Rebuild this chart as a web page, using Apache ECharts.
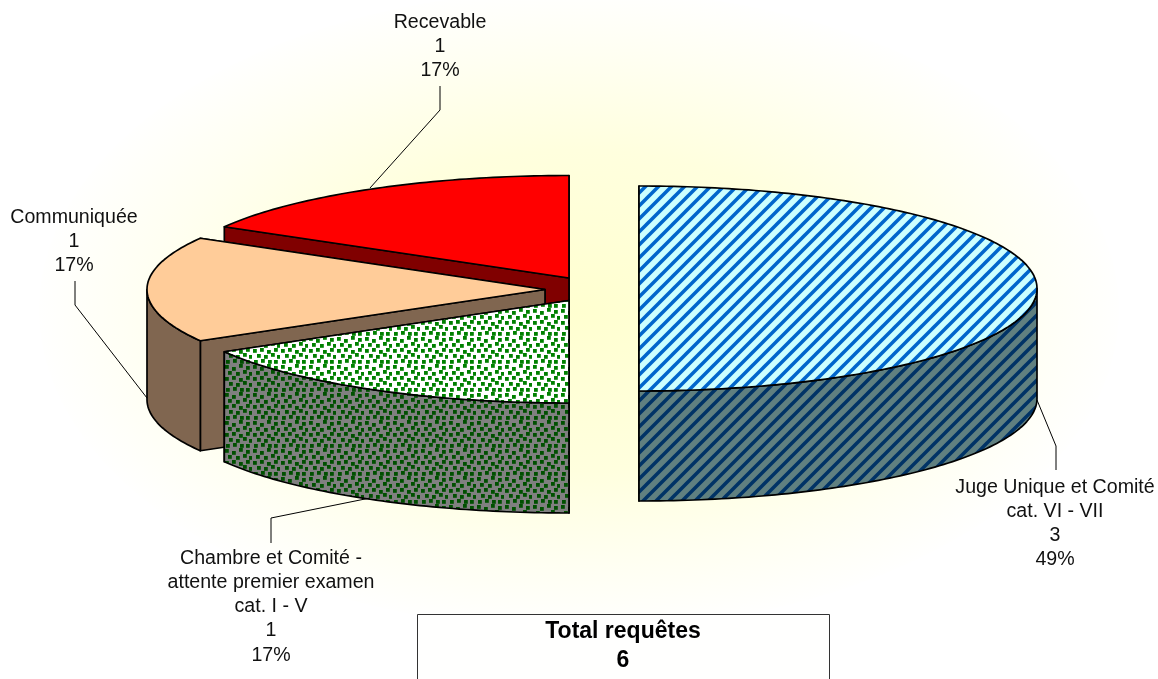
<!DOCTYPE html>
<html><head><meta charset="utf-8">
<style>html,body{margin:0;padding:0;background:#fff}#c{width:1158px;height:679px}</style>
<script src="https://cdn.jsdelivr.net/npm/echarts@6/dist/echarts.min.js"></script>
</head><body><div id="c"></div>
<script>
// data (clockwise from 12 o'clock)
const categories = ['Juge Unique et Comité\ncat. VI - VII', 'Chambre et Comité -\nattente premier examen\ncat. I - V', 'Communiquée', 'Recevable'];
const values = [3, 1, 1, 1];
const percentLabels = ['49%', '17%', '17%', '17%'];
const totalTitle = 'Total requêtes';
const totalValue = '6';

// layout / style
const RX = 398, RY = 102.5, DEPTH = 110;
const centers = [[639, 288.5], [569, 300.5], [545, 289.5], [569, 278]];
const labelPos = [[1055, 475], [271, 546], [74, 205], [440, 10]];
const leaders = [
  [[1037, 400], [1056, 446], [1056, 470]],
  [[370, 498], [271, 518], [271, 543]],
  [[147, 398], [75, 305], [75, 281]],
  [[370, 188], [440, 110], [440, 86]]
];
function stripes(bg, fg, p, w) {
  const c = document.createElement('canvas'); c.width = c.height = p;
  const g = c.getContext('2d'); g.fillStyle = bg; g.fillRect(0, 0, p, p);
  g.filter = 'blur(0.6px)';
  g.strokeStyle = fg; g.lineWidth = w;
  for (const o of [-p, 0, p]) { g.beginPath(); g.moveTo(o - 4, p + 4); g.lineTo(o + p + 4, -4); g.stroke(); }
  return { image: c, repeat: 'repeat' };
}
function dots(bg, fg) {
  const c = document.createElement('canvas'); c.width = c.height = 28;
  const g = c.getContext('2d'); g.fillStyle = bg; g.fillRect(0, 0, 28, 28);
  g.filter = 'blur(0.4px)';
  g.fillStyle = fg;
  const pts = [[1,1],[8,3],[15,0],[22,2],[4,7],[12,8],[19,6],[25,8],[1,13],[8,12],[15,14],[22,12],[5,18],[12,19],[19,17],[25,19],[2,24],[9,23],[16,24],[22,24]];
  for (const [x, y] of pts) g.fillRect(x, y, 3.8, 3.8);
  return { image: c, repeat: 'repeat' };
}
const topFills = [stripes('#CCFFFF', '#0066CC', 13, 3.6), dots('#FFFFFF', '#008000'), '#FFCC99', '#FF0000'];
const sideFills = [stripes('#608080', '#003366', 13, 3.6), dots('#808080', '#005000'), '#806650', '#800000'];

const total = values.reduce((a, b) => a + b, 0);
function rim(c, deg, dz) {
  const a = deg * Math.PI / 180;
  return [c[0] + RX * Math.sin(a), c[1] - RY * Math.cos(a) + (dz || 0)];
}
function renderItem(params, api) {
  const i = params.dataIndex;
  let start = 0;
  for (let k = 0; k < i; k++) start += values[k] / total * 360;
  const end = start + api.value(0) / total * 360;
  const c = centers[i];
  const base = (values.length - i) * 20;
  const stroke = { stroke: '#000', lineWidth: 1.7, lineJoin: 'round' };
  const kids = [];
  const cut = (deg, z) => {
    const p = rim(c, deg), q = rim(c, deg, DEPTH);
    kids.push({ type: 'polygon', z2: base + z, shape: { points: [c, p, q, [c[0], c[1] + DEPTH]] },
      style: Object.assign({ fill: sideFills[i] }, stroke) });
  };
  cut(end, 0); cut(start, 1);
  const wa = Math.max(start, 90), wb = Math.min(end, 270);
  if (wb > wa) {
    const pts = [];
    for (let d = wa; d <= wb + 1e-6; d += 1) pts.push(rim(c, d));
    for (let d = wb; d >= wa - 1e-6; d -= 1) pts.push(rim(c, d, DEPTH));
    kids.push({ type: 'polygon', z2: base + 2, shape: { points: pts }, style: Object.assign({ fill: sideFills[i] }, stroke) });
  }
  const top = [c];
  for (let d = start; d <= end + 1e-6; d += 1) top.push(rim(c, d));
  kids.push({ type: 'polygon', z2: base + 3, shape: { points: top }, style: Object.assign({ fill: topFills[i] }, stroke) });
  // leader and label
  kids.push({ type: 'polyline', z2: 200, shape: { points: leaders[i] }, style: { fill: 'none', stroke: '#000', lineWidth: 1 } });
  kids.push({ type: 'text', z2: 201, style: {
    text: categories[i] + '\n' + values[i] + '\n' + percentLabels[i],
    x: labelPos[i][0], y: labelPos[i][1], align: 'center', verticalAlign: 'top',
    font: '19.6px "Liberation Sans", Arial, sans-serif', lineHeight: 24.3, fill: '#111' } });
  return { type: 'group', children: kids };
}
const chart = echarts.init(document.getElementById('c'), null, { renderer: 'canvas' });
chart.setOption({
  animation: false,
  backgroundColor: '#fff',
  graphic: [
    { type: 'circle', z: -10, silent: true, x: 579, y: 310, scaleX: 540, scaleY: 320, shape: { cx: 0, cy: 0, r: 1 },
      style: { fill: new echarts.graphic.RadialGradient(0.5, 0.5, 0.5, [
        { offset: 0, color: '#FFFFD0' }, { offset: 0.5, color: '#FFFFDE' }, { offset: 0.8, color: '#FFFFF2' }, { offset: 1, color: '#FFFFFE' }]) } },
    { type: 'rect', z: 5, shape: { x: 417.5, y: 614.5, width: 412, height: 80 }, style: { fill: '#FFFFFE', stroke: '#333', lineWidth: 1 } },
    { type: 'text', z: 6, style: { text: totalTitle + '\n' + totalValue, x: 623, y: 617, align: 'center', verticalAlign: 'top',
        font: 'bold 23px "Liberation Sans", Arial, sans-serif', lineHeight: 29, fill: '#000' } }
  ],
  series: [{ type: 'custom', coordinateSystem: 'none', silent: true, renderItem, data: values.map((v) => [v]) }]
});
</script></body></html>
